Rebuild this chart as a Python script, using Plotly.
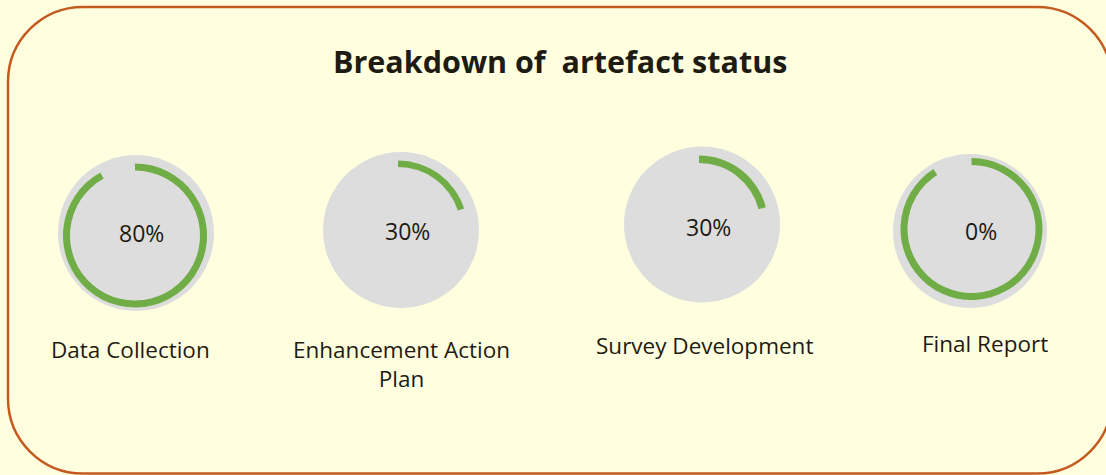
import plotly.graph_objects as go

# ---- data ----
categories = ["Data Collection", "Enhancement Action<br>Plan", "Survey Development", "Final Report"]
status_labels = ["80%", "30%", "30%", "0%"]
arc_shown = [92, 20, 21, 91]          # share of the ring drawn in green (as pictured)

# ---- layout (pixel positions in the 1106x475 canvas) ----
W, H = 1106, 475
disc_cx = [136, 401, 702, 970]
disc_cy = [233, 230, 224.5, 231]
disc_r = [78, 78, 78, 77]
ring_cx = [135, 398, 699, 971.5]
ring_cy = [235.5, 230, 224.5, 229]
ring_out = [72, 69.5, 69, 71]
ring_in = [65, 63, 61.5, 64]
pct_xy = [(141, 233), (407, 231), (708.5, 227.3), (981, 231.3)]
cat_xy = [(130, 349.5), (401.5, 364), (704, 345), (985, 343)]

BG = "#FFFFE0"
GRAY = "#DDDDDD"
GREEN = "#70AD47"
BORDER = "#C55A1E"
TXT = "#1E1B12"
FONT = "Open Sans"


def dom(cx, cy, r):
    return dict(x=[(cx - r) / W, (cx + r) / W], y=[1 - (cy + r) / H, 1 - (cy - r) / H])


fig = go.Figure()
for i in range(len(categories)):
    fig.add_trace(go.Pie(values=[100], labels=["disc"], marker=dict(colors=[GRAY], line=dict(width=0)),
                         domain=dom(disc_cx[i], disc_cy[i], disc_r[i]), textinfo="none",
                         hoverinfo="skip", showlegend=False, sort=False))
    fig.add_trace(go.Pie(values=[arc_shown[i], 100 - arc_shown[i]], labels=["done", "rest"],
                         marker=dict(colors=[GREEN, "rgba(0,0,0,0)"], line=dict(width=0)),
                         hole=ring_in[i] / ring_out[i], direction="clockwise", rotation=0, sort=False,
                         domain=dom(ring_cx[i], ring_cy[i], ring_out[i]), textinfo="none",
                         hoverinfo="skip", showlegend=False))

annotations = []
for i in range(len(categories)):
    px, py = pct_xy[i]
    annotations.append(dict(x=px / W, y=1 - py / H, xref="paper", yref="paper", text=status_labels[i],
                            showarrow=False, xanchor="center", yanchor="middle",
                            font=dict(family=FONT, size=23, color=TXT)))
    cx, cy = cat_xy[i]
    annotations.append(dict(x=cx / W, y=1 - cy / H, xref="paper", yref="paper", text=categories[i],
                            showarrow=False, xanchor="center", yanchor="middle", align="center",
                            font=dict(family=FONT, size=22.5, color=TXT)))
annotations.append(dict(x=560 / W, y=1 - 61 / H, xref="paper", yref="paper",
                        text="<b>Breakdown of \u00a0artefact status</b>", showarrow=False,
                        xanchor="center", yanchor="middle", font=dict(family=FONT, size=30.5, color=TXT)))

# rounded border rectangle
L, T, R, B, rad = 8, 7, 1112, 473.5, 75
k = 0.5523 * rad


def P(x, y):
    return f"{x / W:.5f},{1 - y / H:.5f}"


path = (f"M {P(L + rad, T)} L {P(R - rad, T)} C {P(R - rad + k, T)} {P(R, T + rad - k)} {P(R, T + rad)} "
        f"L {P(R, B - rad)} C {P(R, B - rad + k)} {P(R - rad + k, B)} {P(R - rad, B)} "
        f"L {P(L + rad, B)} C {P(L + rad - k, B)} {P(L, B - rad + k)} {P(L, B - rad)} "
        f"L {P(L, T + rad)} C {P(L, T + rad - k)} {P(L + rad - k, T)} {P(L + rad, T)} Z")

fig.update_layout(
    width=W, height=H, margin=dict(l=0, r=0, t=0, b=0),
    paper_bgcolor=BG, plot_bgcolor=BG,
    annotations=annotations,
    shapes=[dict(type="path", path=path, xref="paper", yref="paper",
                 line=dict(color=BORDER, width=2.5), layer="below")],
)
fig.write_html("out.html")
